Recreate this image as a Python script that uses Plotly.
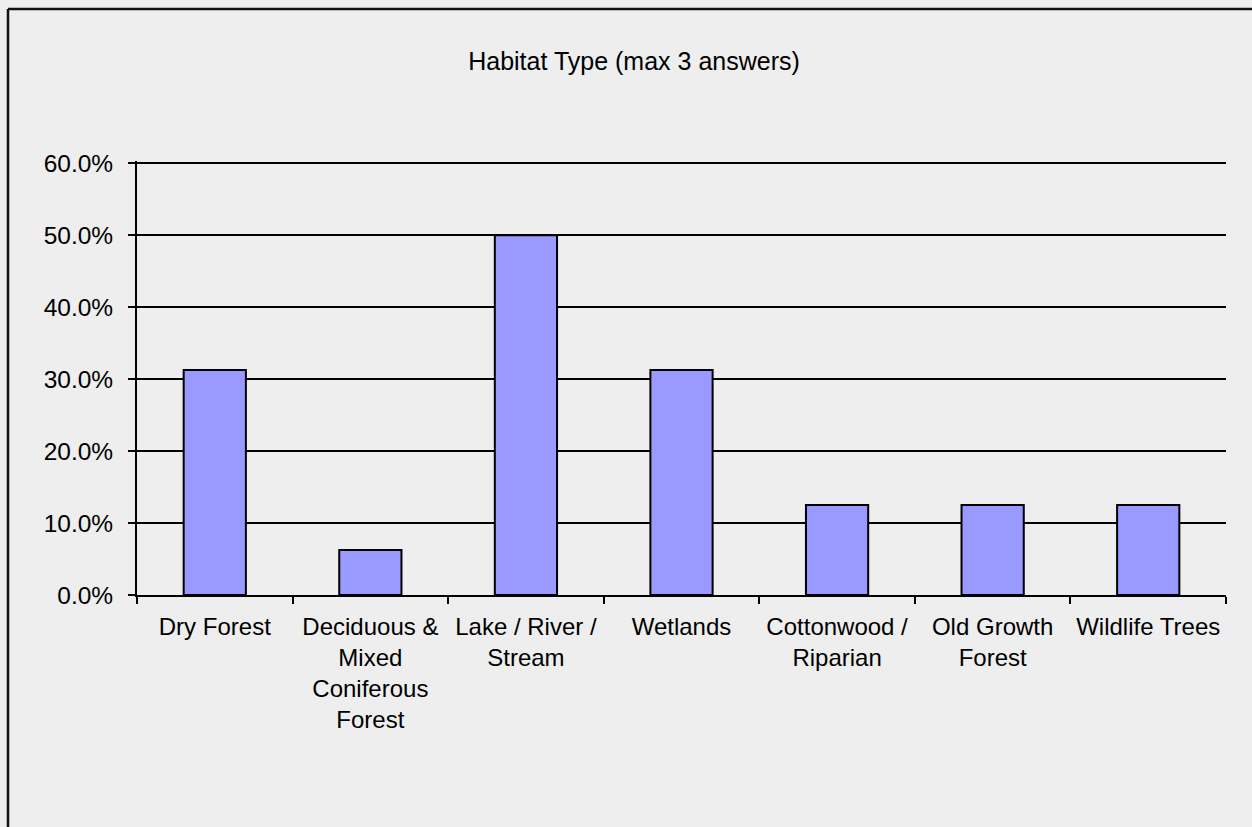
import plotly.graph_objects as go

categories = ["Dry Forest", "Deciduous &<br>Mixed<br>Coniferous<br>Forest", "Lake / River /<br>Stream",
              "Wetlands", "Cottonwood /<br>Riparian", "Old Growth<br>Forest", "Wildlife Trees"]
values = [0.3125, 0.0625, 0.50, 0.3125, 0.125, 0.125, 0.125]
y_ticks = [0, 0.1, 0.2, 0.3, 0.4, 0.5, 0.6]
y_top = 0.603

W, H = 1252, 827
L, R, T, B = 137, 26, 161, 232
pw, ph = W - L - R, H - T - B

fig = go.Figure(go.Bar(
    x=categories, y=values, width=0.4,
    marker=dict(color="#9999FF", line=dict(color="black", width=2)),
))

font = "Liberation Sans, Arial, sans-serif"
bx = (8 - L) / pw
ty = (H - B - 9) / ph

fig.update_layout(
    width=W, height=H,
    margin=dict(l=L, r=R, t=T, b=B, pad=0),
    paper_bgcolor="#EEEEEE", plot_bgcolor="#EEEEEE",
    font=dict(family=font, size=24.5, color="black"),
    showlegend=False,
    title=dict(text="Habitat Type (max 3 answers)", x=634 / W, xanchor="center",
               y=1 - 61 / H, yanchor="middle", xref="container",
               font=dict(size=25, family=font, color="black")),
    xaxis=dict(showline=True, linecolor="black", linewidth=2, ticks="outside",
               tickson="boundaries", ticklen=7, tickwidth=2, tickcolor="black",
               showgrid=False, tickangle=0, fixedrange=True, ticklabelstandoff=9,
               tickfont=dict(size=24)),
    yaxis=dict(range=[0, y_top], tickvals=y_ticks, tickformat=".1%", showline=True,
               linecolor="black", linewidth=2, ticks="outside", ticklen=7, tickwidth=2,
               tickcolor="black", showgrid=True, gridcolor="black", gridwidth=2,
               zeroline=False, fixedrange=True, ticklabelstandoff=10),
    shapes=[
        dict(type="line", xref="paper", yref="paper", x0=bx, x1=bx, y0=-1, y1=ty,
             line=dict(color="#111111", width=2.5)),
        dict(type="line", xref="paper", yref="paper", x0=bx, x1=1.5, y0=ty, y1=ty,
             line=dict(color="#111111", width=2.5)),
    ],
)

fig.write_html("out.html", config={"displayModeBar": False},
               post_script="document.body.style.margin='0';document.body.style.overflow='hidden';")
